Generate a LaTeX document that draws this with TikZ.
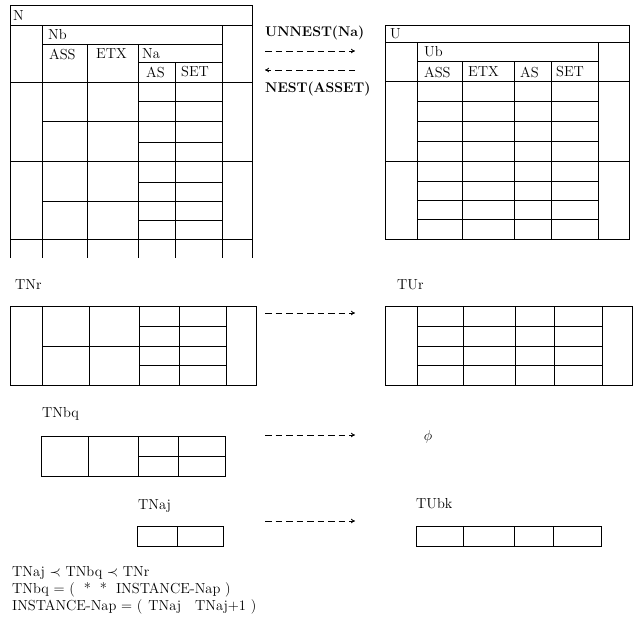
\documentclass[tikz,border=0pt]{standalone}
\usepackage{tikz}
\usetikzlibrary{arrows.meta,positioning}
\tikzset{
  tabline/.style={line width=1pt, line cap=rect},
  hdr/.style={anchor=west, inner sep=0pt, font=\fontsize{14.5}{16}\selectfont},
  lbl/.style={anchor=west, inner sep=0pt, font=\fontsize{14.5}{16}\selectfont},
  opname/.style={anchor=west, inner sep=0pt, font=\fontsize{14}{16}\selectfont\bfseries},
  dasharrow/.style={-{To[length=4pt,width=4.5pt]}, line width=0.8pt, dash pattern=on 6.5pt off 4pt}
}

\begin{document}
\begin{tikzpicture}[x=1pt, y=-1pt]
  \useasboundingbox (0,0) rectangle (633,631);

  % nested relation N
  \draw[tabline] (10,258) -- (10,6) -- (252,6) -- (252,258);
  \draw[tabline] (10,26) -- (252,26);
  \foreach \x in {42,222} \draw[tabline] (\x,26) -- (\x,258);
  \draw[tabline] (42,45) -- (222,45);
  \foreach \x in {87,138} \draw[tabline] (\x,45) -- (\x,258);
  \draw[tabline] (138,63) -- (222,63);
  \draw[tabline] (175,63) -- (175,258);
  \foreach \y in {83,162,240} \draw[tabline] (10,\y) -- (252,\y);
  \foreach \y in {122,202} \draw[tabline] (42,\y) -- (222,\y);
  \foreach \y in {102,143,183,221} \draw[tabline] (138,\y) -- (222,\y);
  \node[hdr] (nN) at (13,16) {N};
  \node[hdr] (nNb) at (48,35) {Nb};
  \node[hdr] (nAss) at (49,54) {ASS};
  \node[hdr] (nEtx) at (96,54) {ETX};
  \node[hdr] (nNa) at (142,54) {Na};
  \node[hdr] (nAs) at (146,72) {AS};
  \node[hdr] (nSet) at (181,72) {SET};

  % unnested relation U
  \draw[tabline] (385,26) rectangle (629,240);
  \draw[tabline] (385,43) -- (629,43);
  \foreach \x in {417,598} \draw[tabline] (\x,43) -- (\x,240);
  \draw[tabline] (417,62) -- (598,62);
  \foreach \x in {462,514,551} \draw[tabline] (\x,62) -- (\x,240);
  \foreach \y in {82,162} \draw[tabline] (385,\y) -- (629,\y);
  \foreach \y in {102,122,142,182,201,220} \draw[tabline] (417,\y) -- (598,\y);
  \node[hdr] (uU) at (390,34) {U};
  \node[hdr] (uUb) at (424,52) {Ub};
  \node[hdr] (uAss) at (424,72) {ASS};
  \node[hdr] (uEtx) at (468,72) {ETX};
  \node[hdr] (uAs) at (520,72) {AS};
  \node[hdr] (uSet) at (556,72) {SET};

  % operations between N and U
  \node[opname] (unnest) at (265,33) {UNNEST(Na)};
  \node[opname] (nest) at (265,89) {NEST(ASSET)};
  \coordinate (unA) at (265,51);
  \coordinate (unB) at (355,51);
  \coordinate (neA) at (355,70);
  \coordinate (neB) at (265,70);
  \draw[dasharrow] (unA) -- (unB);
  \draw[dasharrow] (neA) -- (neB);

  % tuple TNr
  \node[lbl] (tnr) at (15,285) {TNr};
  \draw[tabline] (10,307) rectangle (256,386);
  \foreach \x in {42,89,139,179,226} \draw[tabline] (\x,307) -- (\x,386);
  \draw[tabline] (42,347) -- (226,347);
  \foreach \y in {327,366} \draw[tabline] (139,\y) -- (226,\y);

  % tuple TUr
  \node[lbl] (tur) at (397,285) {TUr};
  \draw[tabline] (385,307) rectangle (632,386);
  \foreach \x in {417,463,515,554,602} \draw[tabline] (\x,307) -- (\x,386);
  \foreach \y in {327,347,366} \draw[tabline] (417,\y) -- (602,\y);

  \coordinate (trA) at (265,313);
  \coordinate (trB) at (355,313);
  \draw[dasharrow] (trA) -- (trB);

  % tuple TNbq
  \node[lbl] (tnbq) at (42,414) {TNbq};
  \draw[tabline] (41,437) rectangle (225,477);
  \foreach \x in {88,138,178} \draw[tabline] (\x,437) -- (\x,477);
  \draw[tabline] (138,457) -- (225,457);

  \coordinate (tbA) at (265,435);
  \coordinate (tbB) at (355,435);
  \draw[dasharrow] (tbA) -- (tbB);
  \node[inner sep=0pt, font=\fontsize{14.5}{16}\selectfont] (empty) at (428,437) {$\phi$};

  % tuple TNaj
  \node[lbl] (tnaj) at (138,506) {TNaj};
  \draw[tabline] (137,527) rectangle (223,547);
  \draw[tabline] (177,527) -- (177,547);

  % tuple TUbk
  \node[lbl] (tubk) at (416,504) {TUbk};
  \draw[tabline] (416,527) rectangle (601,547);
  \foreach \x in {463,514,553} \draw[tabline] (\x,527) -- (\x,547);

  \coordinate (taA) at (265,521);
  \coordinate (taB) at (355,521);
  \draw[dasharrow] (taA) -- (taB);

  % definitions
  \node[lbl] (def1) at (12,573) {TNaj $\prec$ TNbq $\prec$ TNr};
  \node[lbl] (def2) at (12,590) {TNbq = (\hspace{9pt}*\hspace{9pt}*\hspace{9pt}INSTANCE-Nap )};
  \node[lbl] (def3) at (12,607) {INSTANCE-Nap = (\hspace{6pt}TNaj\hspace{14pt}TNaj+1 )};
\end{tikzpicture}
\end{document}
